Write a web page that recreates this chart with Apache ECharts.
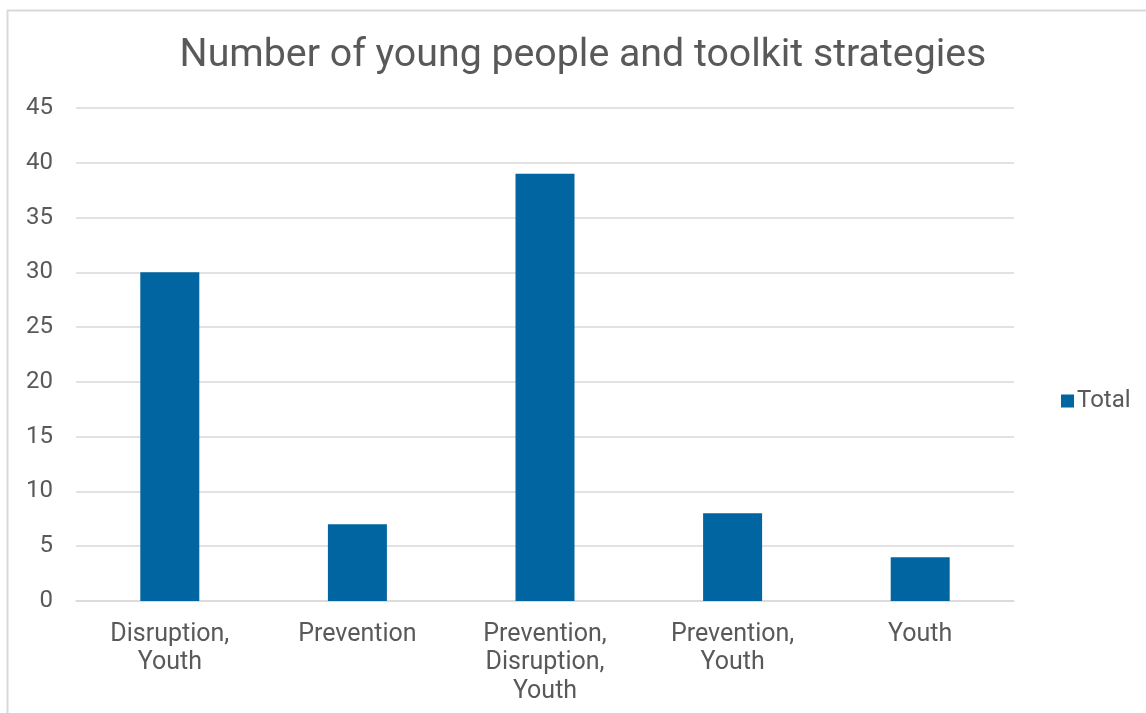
<!DOCTYPE html>
<html><head><meta charset="utf-8">
<script src="https://cdn.jsdelivr.net/npm/echarts@6/dist/echarts.min.js"></script>
<style>html,body{margin:0;padding:0;background:#fff}#c{width:1146px;height:713px}</style>
</head><body><div id="c"></div>
<script>
const categories = ["Disruption,\nYouth", "Prevention", "Prevention,\nDisruption,\nYouth", "Prevention,\nYouth", "Youth"];
const totals = [30, 7, 39, 8, 4];
const yTicks = {min: 0, max: 45, interval: 5};
const chart = echarts.init(document.getElementById('c'), null, {renderer: 'canvas'});
const font = 'Roboto, sans-serif';
chart.setOption({
  animation: false,
  backgroundColor: '#fff',
  graphic: [{type: 'rect', shape: {x: 7.5, y: 10.5, width: 1150, height: 720}, style: {fill: 'none', stroke: '#d9d9d9', lineWidth: 2}, silent: true}],
  title: {text: 'Number of young people and toolkit strategies', left: 578, textAlign: 'center', top: 32,
    textStyle: {fontFamily: font, fontSize: 39.3, fontWeight: 'normal', color: '#595959'}},
  legend: {data: ['Total'], orient: 'vertical', left: 1056, top: 384, itemWidth: 13, itemHeight: 13, itemGap: 5,
    icon: 'rect', textStyle: {fontFamily: font, fontSize: 24, color: '#595959', padding: [0,0,0,-2]}},
  grid: {left: 76, right: 132, top: 108, bottom: 112, containLabel: false},
  xAxis: {type: 'category', data: categories,
    axisLine: {lineStyle: {color: '#d9d9d9', width: 1.5}}, axisTick: {show: false},
    axisLabel: {fontFamily: font, fontSize: 25, color: '#595959', lineHeight: 28.5, margin: 19, interval: 0}},
  yAxis: {type: 'value', min: yTicks.min, max: yTicks.max, interval: yTicks.interval,
    axisLine: {show: false}, axisTick: {show: false},
    splitLine: {lineStyle: {color: '#d9d9d9', width: 1.5}},
    axisLabel: {fontFamily: font, fontSize: 24, color: '#595959', margin: 23}},
  series: [{name: 'Total', type: 'bar', data: totals, barWidth: 59, itemStyle: {color: '#0065a0'}}]
});
</script></body></html>
